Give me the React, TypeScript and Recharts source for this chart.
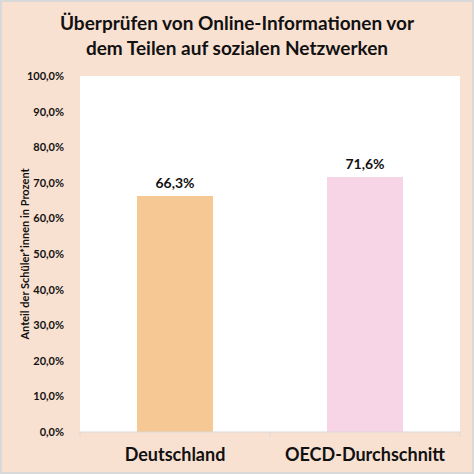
import { BarChart, Bar, XAxis, YAxis, CartesianGrid, LabelList, Cell } from 'recharts';

const categories = ['Deutschland', 'OECD-Durchschnitt'];
const shares = [66.3, 71.6];
const barColors = ['#f6c994', '#f7d4e6'];
const yTicks = [0, 10, 20, 30, 40, 50, 60, 70, 80, 90, 100];

const data = categories.map((name, i) => ({ name, share: shares[i] }));

const fmt = (v: number) => v.toFixed(1).replace('.', ',') + '%';
const font = 'Lato, "Open Sans", sans-serif';

// category tick with Excel-style boundary marks
const CategoryTick = (props: any) => {
  const { x, y, payload, index, visibleTicksCount } = props;
  const half = payload.offset || 95;
  return (
    <g>
      <line x1={x - half} y1={y - 8} x2={x - half} y2={y - 3} stroke="#d9d9d9" />
      {index === visibleTicksCount - 1 && (
        <line x1={x + half} y1={y - 8} x2={x + half} y2={y - 3} stroke="#d9d9d9" />
      )}
      <text x={x} y={y + 21} textAnchor="middle" fontSize={18} fontWeight={700} fill="#111" fontFamily={font}>
        {payload.value}
      </text>
    </g>
  );
};

export default function App() {
  return (
    <div
      style={{
        position: 'absolute',
        left: 0,
        top: 0,
        width: 474,
        height: 474,
        background: '#f9e1d2',
        boxSizing: 'border-box',
        border: '2px solid #d9d9d9',
        fontFamily: font,
      }}
    >
      <div
        style={{
          position: 'absolute',
          left: 0,
          top: 8,
          width: 470,
          textAlign: 'center',
          fontSize: 19,
          fontWeight: 700,
          lineHeight: '25px',
          color: '#111',
        }}
      >
        Überprüfen von Online-Informationen vor
        <br />
        dem Teilen auf sozialen Netzwerken
      </div>
      <div style={{ position: 'absolute', left: -2, top: -2 }}>
        <BarChart width={474} height={474} data={data} margin={{ top: 76, right: 14, bottom: 0, left: 0 }} barCategoryGap="30%">
          <CartesianGrid fill="#ffffff" horizontal={false} vertical={false} />
          <XAxis
            dataKey="name"
            height={42}
            axisLine={{ stroke: '#d9d9d9' }}
            tickLine={false}
            tick={<CategoryTick />}
            interval={0}
          />
          <YAxis
            width={80}
            domain={[0, 100]}
            ticks={yTicks}
            axisLine={false}
            tickLine={false}
            tickFormatter={fmt}
            tick={{ fontSize: 11, fontWeight: 700, fill: '#111', fontFamily: font }}
            tickMargin={10}
            label={{
              value: 'Anteil der Schüler*innen in Prozent',
              angle: -90,
              position: 'insideLeft',
              dx: 20,
              style: { textAnchor: 'middle', fontSize: 11, fontWeight: 700, fill: '#111', fontFamily: font },
            }}
          />
          <Bar dataKey="share" isAnimationActive={false}>
            {data.map((d, i) => (
              <Cell key={d.name} fill={barColors[i]} />
            ))}
            <LabelList
              dataKey="share"
              position="top"
              offset={8}
              formatter={(v: any) => fmt(Number(v))}
              style={{ fontSize: 14, fontWeight: 700, fill: '#111', fontFamily: font }}
            />
          </Bar>
        </BarChart>
      </div>
    </div>
  );
}
